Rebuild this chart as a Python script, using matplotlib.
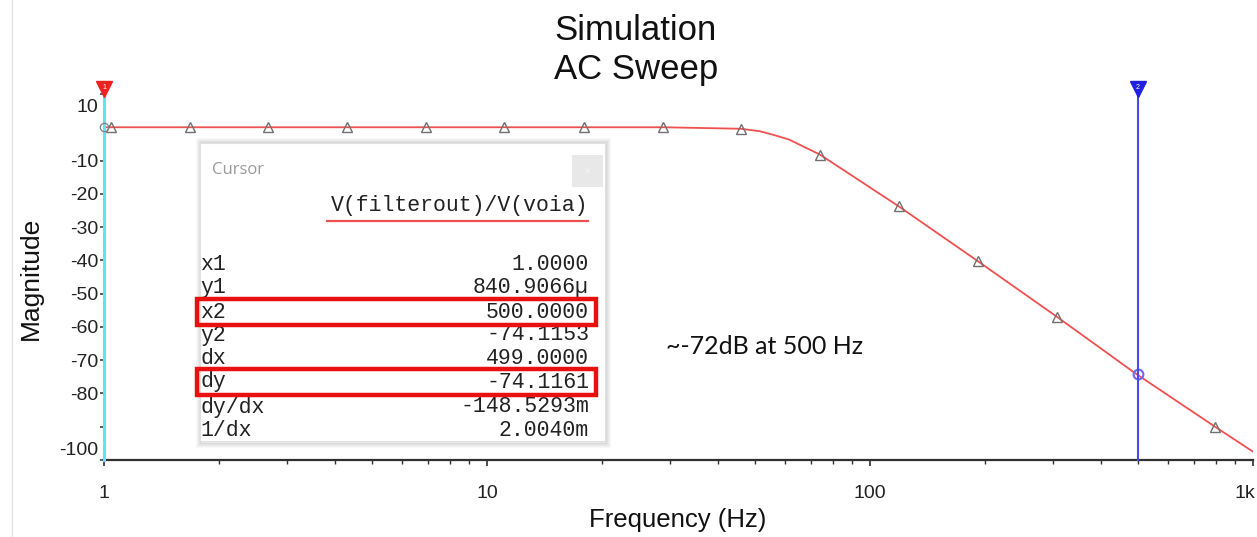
import matplotlib
matplotlib.use("Agg")
import matplotlib.pyplot as plt
from matplotlib.patches import Rectangle
from matplotlib.ticker import FixedLocator, NullFormatter
import matplotlib.transforms as mtransforms

W, H = 1257, 537

# curve (frequency in Hz, magnitude in dB)
freq_hz = [1.0, 1.043, 1.677, 2.68, 4.31, 6.93, 11.1, 17.9, 28.8, 46.0,
           51.6, 56.0, 61.5, 67.0, 74.0, 119.0, 191.0, 308.0, 495.0, 796.0, 1000.0]
mag_db = [0.0, 0.0, 0.0, 0.0, 0.0, 0.0, 0.0, 0.0, 0.0, -0.45,
          -1.2, -2.3, -3.7, -5.8, -8.2, -23.8, -40.2, -57.0, -74.1, -90.0, -97.5]
marker_idx = [1, 2, 3, 4, 5, 6, 7, 8, 9, 14, 15, 16, 17, 19]

# cursors
cursor1 = (1.0, 0.00084)
cursor2 = (500.0, -74.1153)

# cursor window contents
trace_name = "V(filterout)/V(voia)"
row_names = ["x1", "y1", "x2", "y2", "dx", "dy", "dy/dx", "1/dx"]
row_values = ["1.0000", "840.9066µ", "500.0000", "-74.1153", "499.0000",
              "-74.1161", "-148.5293m", "2.0040m"]
boxed_rows = ["x2", "dy"]

y_ticks = [10, -10, -20, -30, -40, -50, -60, -70, -80, -90, -100]
y_labels = ["10", "-10", "-20", "-30", "-40", "-50", "-60", "-70", "-80", "", "-100"]
x_ticks = [1, 10, 100, 1000]
x_labels = ["1", "10", "100", "1k"]

RED = "#f05050"
CYAN = "#5ce6f0"
BLUE = "#4848f0"

plt.rcParams["font.family"] = ["Liberation Sans", "DejaVu Sans"]

fig = plt.figure(figsize=(W / 100, H / 100), dpi=100)


def fx(px):
    return px / W


def fy(py):
    return 1 - py / H


ax = fig.add_axes([fx(104), fy(460), fx(1253) - fx(104), fy(85) - fy(460)])
ax.set_xscale("log")
ax.set_xlim(1, 1000)
ax.set_ylim(-100, 12.7)

ax.plot(freq_hz, mag_db, color=RED, lw=1.3, zorder=3)
ax.plot([freq_hz[i] for i in marker_idx], [mag_db[i] for i in marker_idx],
        ls="none", marker="^", ms=6.5, mfc="none", mec="#707070", mew=1.0, zorder=4)
ax.plot(*cursor1, marker="o", ms=6, mfc="none", mec="#808080", mew=0.9, zorder=6, clip_on=False)
ax.plot(*cursor2, marker="o", ms=7, mfc="none", mec="#6a6af0", mew=1.5, zorder=4)

# cursor lines with their flags
xt = ax.get_xaxis_transform()
ax.plot([cursor1[0]] * 2, [0, 0.99], transform=xt, color=CYAN, lw=2.2, zorder=5, clip_on=False)
ax.plot([cursor2[0]] * 2, [0, 0.99], transform=xt, color=BLUE, lw=1.5, zorder=5, clip_on=False)
ax.plot(cursor1[0], 0.99, transform=xt, marker="v", ms=11, color="#ee2020", clip_on=False, zorder=6)
ax.plot(cursor2[0], 0.99, transform=xt, marker="v", ms=11, color="#2020e0", clip_on=False, zorder=6)
ax.text(cursor1[0], 0.993, "1", transform=xt, color="white", fontsize=5, ha="center", va="center",
        zorder=7, clip_on=False)
ax.text(cursor2[0], 0.993, "2", transform=xt, color="white", fontsize=5, ha="center", va="center",
        zorder=7, clip_on=False)

for s in ["top", "right", "left"]:
    ax.spines[s].set_visible(False)
ax.spines["bottom"].set_color("#303030")
ax.spines["bottom"].set_linewidth(1.6)

ax.set_xticks(x_ticks)
ax.set_xticklabels(x_labels)
ax.xaxis.set_minor_locator(FixedLocator([m * d for d in (1, 10, 100) for m in range(2, 10)]))
ax.xaxis.set_minor_formatter(NullFormatter())
ax.tick_params(axis="x", which="major", length=4, width=1.2, color="#303030", pad=14,
               labelsize=14, labelcolor="#222222")
ax.tick_params(axis="x", which="minor", length=3, width=1.0, color="#303030")
ax.set_yticks(y_ticks)
ax.set_yticklabels(y_labels)
ax.tick_params(axis="y", length=3, width=1.2, color="#404040", pad=1, labelsize=14,
               labelcolor="#222222")

# end labels are nudged inward like the simulator does
lbls = ax.get_yticklabels()
lbls[0].set_transform(lbls[0].get_transform() + mtransforms.ScaledTranslation(0, -12 / 100, fig.dpi_scale_trans))
lbls[-1].set_transform(lbls[-1].get_transform() + mtransforms.ScaledTranslation(0, 12 / 100, fig.dpi_scale_trans))
xl = ax.get_xticklabels()
xl[-1].set_transform(xl[-1].get_transform() + mtransforms.ScaledTranslation(-8 / 100, 0, fig.dpi_scale_trans))

fig.text(fx(636), fy(30), "Simulation", ha="center", va="center", fontsize=25, color="#111111")
fig.text(fx(636), fy(70), "AC Sweep", ha="center", va="center", fontsize=25, color="#111111")
fig.text(fx(678), fy(520), "Frequency (Hz)", ha="center", va="center", fontsize=18.5, color="#111111")
fig.text(fx(31), fy(278), "Magnitude", ha="center", va="center", rotation=90, fontsize=19,
         color="#111111")
fig.text(fx(666), fy(347), "~-72dB at 500 Hz", ha="left", va="center", fontsize=18,
         family=["Lato", "DejaVu Sans"], color="#111111")

# screenshot edge on the left
fig.add_artist(plt.Line2D([fx(12), fx(12)], [0, 1], transform=fig.transFigure, color="#e4e4e4", lw=1))

# cursor window
bx0, bx1, by0, by1 = 200, 605, 143, 441
for k, a in zip(range(1, 6), [0.10, 0.08, 0.06, 0.04, 0.03]):
    fig.add_artist(Rectangle((fx(bx0 - k + 2), fy(by1 + k + 1)), fx(bx1 - bx0 + 2 * k - 2), fy(0) - fy(by1 - by0 + 2 * k),
                             transform=fig.transFigure, facecolor="none", edgecolor="black",
                             alpha=a, lw=1.2, zorder=9))
fig.add_artist(Rectangle((fx(bx0), fy(by1)), fx(bx1 - bx0), fy(0) - fy(by1 - by0),
                         transform=fig.transFigure, facecolor="white", edgecolor="#e0e0e0",
                         lw=0.8, zorder=10))
fig.add_artist(Rectangle((fx(572), fy(187)), fx(31), fy(0) - fy(32), transform=fig.transFigure,
                         facecolor="#e8e8e8", edgecolor="none", zorder=11))
fig.text(fx(587), fy(171), "×", ha="center", va="center", fontsize=9, color="#f4f4f4", zorder=12)
fig.text(fx(212), fy(170), "Cursor", ha="left", va="center", fontsize=12, color="#9a9a9a",
         family=["Open Sans", "DejaVu Sans"], zorder=12)

mono = ["Liberation Mono", "DejaVu Sans Mono"]
fig.text(fx(588), fy(205), trace_name, ha="right", va="center", fontsize=15.5, family=mono,
         color="#222222", zorder=12)
fig.add_artist(plt.Line2D([fx(327), fx(588)], [fy(221), fy(221)], transform=fig.transFigure,
                          color=RED, lw=1.6, zorder=12))

row_y = [265, 287, 312, 335, 358, 382, 407, 430]
for name, val, y in zip(row_names, row_values, row_y):
    fig.text(fx(200), fy(y), name, ha="left", va="center", fontsize=15.5, family=mono,
             color="#222222", zorder=12)
    fig.text(fx(589), fy(y), val, ha="right", va="center", fontsize=15.5, family=mono,
             color="#222222", zorder=12)
    if name in boxed_rows:
        fig.add_artist(Rectangle((fx(197), fy(y + 13)), fx(399), fy(0) - fy(26),
                                 transform=fig.transFigure, facecolor="none", edgecolor="#e81010",
                                 lw=3.2, zorder=13))

fig.savefig("out.png", dpi=100)
